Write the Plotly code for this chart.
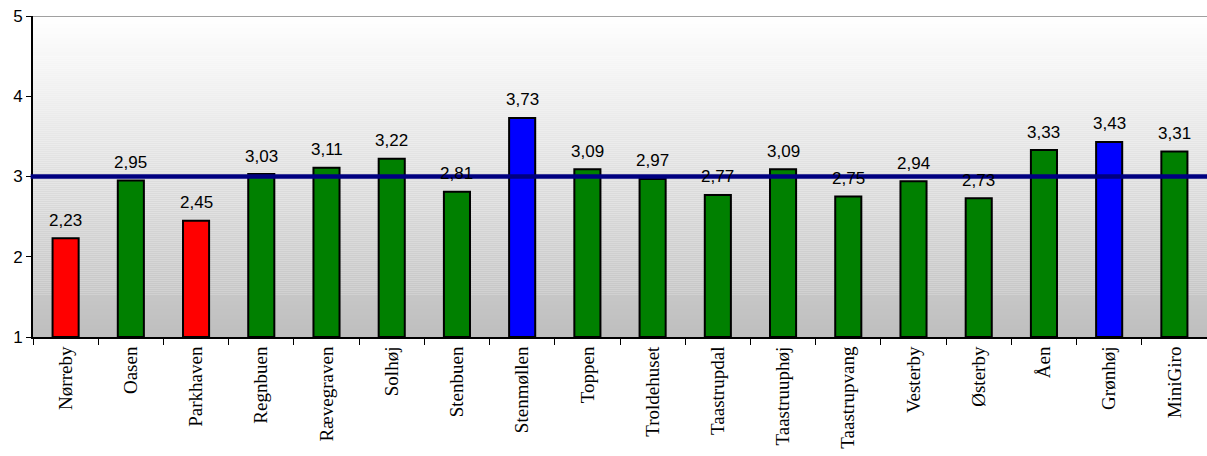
import plotly.graph_objects as go

categories = ["Nørreby", "Oasen", "Parkhaven", "Regnbuen", "Rævegraven", "Solhøj",
              "Stenbuen", "Stenmøllen", "Toppen", "Troldehuset", "Taastrupdal",
              "Taastruuphøj", "Taastrupvang", "Vesterby", "Østerby", "Åen",
              "Grønhøj", "MiniGiro"]
values = [2.23, 2.95, 2.45, 3.03, 3.11, 3.22, 2.81, 3.73, 3.09, 2.97, 2.77,
          3.09, 2.75, 2.94, 2.73, 3.33, 3.43, 3.31]
bar_colors = ["#ff0000", "#008000", "#ff0000", "#008000", "#008000", "#008000",
              "#008000", "#0000ff", "#008000", "#008000", "#008000", "#008000",
              "#008000", "#008000", "#008000", "#008000", "#0000ff", "#008000"]
reference_value = 3
y_ticks = [1, 2, 3, 4, 5]

fig = go.Figure()
fig.add_trace(go.Bar(
    x=categories, y=[v - 1 for v in values], base=1,
    marker=dict(color=bar_colors, line=dict(color="#000000", width=2)),
    width=0.4, hoverinfo="skip", showlegend=False,
))

shapes = []
n_bands = 160
for i in range(n_bands):
    t = (i + 0.5) / n_bands
    g = round(255 - (255 - 190) * t)
    shapes.append(dict(type="rect", xref="paper", yref="paper",
                       x0=0, x1=1, y0=1 - (i + 1) / n_bands, y1=1 - i / n_bands,
                       fillcolor=f"rgb({g},{g},{g})", line=dict(width=0), layer="below"))
shapes.append(dict(type="line", xref="paper", yref="y", x0=0, x1=1, y0=5, y1=5,
                   line=dict(color="#808080", width=1.5), layer="above"))
shapes.append(dict(type="line", xref="paper", yref="y", x0=-0.002, x1=1,
                   y0=reference_value, y1=reference_value,
                   line=dict(color="#000080", width=4.5), layer="above"))

annotations = []
for c, v in zip(categories, values):
    annotations.append(dict(x=c, y=v, xref="x", yref="y", text=f"{v:.2f}".replace(".", ","),
                            showarrow=False, yanchor="middle", yshift=18,
                            font=dict(family="Liberation Sans, Arial", size=17, color="#000000")))

fig.update_layout(
    width=1207, height=456,
    margin=dict(l=33, r=0, t=16, b=119),
    paper_bgcolor="#ffffff", plot_bgcolor="#ffffff",
    shapes=shapes, annotations=annotations,
    bargap=0.6,
    xaxis=dict(type="category", tickangle=-90, tickson="boundaries", ticks="outside",
               ticklen=6, tickcolor="#000000", showline=True, linecolor="#000000",
               linewidth=2, showgrid=False,
               tickfont=dict(family="Liberation Serif, Times New Roman", size=19, color="#000000")),
    yaxis=dict(range=[1, 5], tickvals=y_ticks, ticks="outside", ticklen=5,
               tickcolor="#000000", showline=True, linecolor="#000000", linewidth=2,
               showgrid=False, zeroline=False,
               tickfont=dict(family="Liberation Sans, Arial", size=17, color="#000000")),
)

fig.write_html("out.html", config={"displayModeBar": False},
               post_script="document.body.style.margin='0';")
